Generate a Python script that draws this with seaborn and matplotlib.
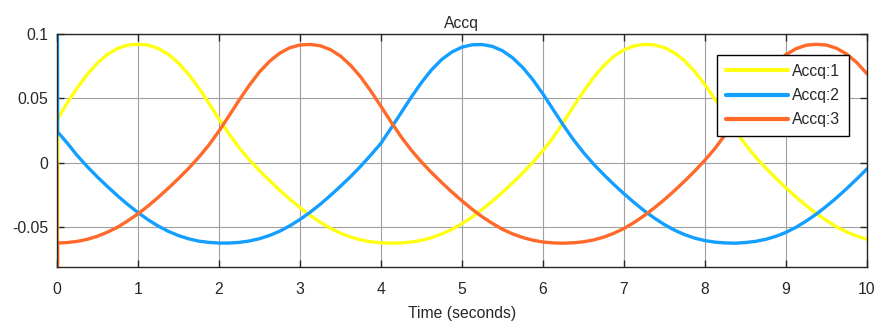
"""Simulink scope style plot of the three Accq signals."""
import matplotlib
matplotlib.use("Agg")
import matplotlib.pyplot as plt
import pandas as pd
import seaborn as sns

# sample times (s); the first three samples hold the start-up transient
TIME = [0.0, 0.004, 0.008,
        0.125, 0.25, 0.375, 0.5, 0.625, 0.75, 0.875, 1.0,
        1.125, 1.25, 1.375, 1.5, 1.625, 1.75, 1.875, 2.0,
        2.125, 2.25, 2.375, 2.5, 2.625, 2.75, 2.875, 3.0,
        3.125, 3.25, 3.375, 3.5, 3.625, 3.75, 3.875, 4.0,
        4.125, 4.25, 4.375, 4.5, 4.625, 4.75, 4.875, 5.0,
        5.125, 5.25, 5.375, 5.5, 5.625, 5.75, 5.875, 6.0,
        6.125, 6.25, 6.375, 6.5, 6.625, 6.75, 6.875, 7.0,
        7.125, 7.25, 7.375, 7.5, 7.625, 7.75, 7.875, 8.0,
        8.125, 8.25, 8.375, 8.5, 8.625, 8.75, 8.875, 9.0,
        9.125, 9.25, 9.375, 9.5, 9.625, 9.75, 9.875, 10.0]

ACCQ_1 = [-0.3, -0.3, 0.034,
          0.0463, 0.0581, 0.0687, 0.0775, 0.0842, 0.0888, 0.0914, 0.092,
          0.0914, 0.0888, 0.0842, 0.0775, 0.0687, 0.0581, 0.0463, 0.034,
          0.0222, 0.0116, 0.0023, -0.0061, -0.0139, -0.0213, -0.0283, -0.0349,
          -0.0409, -0.0462, -0.0509, -0.0547, -0.0577, -0.0599, -0.0614, -0.0622,
          -0.0625, -0.0623, -0.0616, -0.0603, -0.0582, -0.0554, -0.0518, -0.0473,
          -0.0422, -0.0363, -0.0299, -0.023, -0.0157, -0.008, 0.0003, 0.0094,
          0.0194, 0.0312, 0.0435, 0.0553, 0.0662, 0.0754, 0.0826, 0.0877,
          0.0908, 0.0919, 0.0915, 0.0894, 0.0853, 0.0791, 0.0708, 0.0606,
          0.0491, 0.037, 0.025, 0.0141, 0.0045, -0.0041, -0.012, -0.0195,
          -0.0266, -0.0333, -0.0395, -0.0449, -0.0498, -0.0538, -0.057, -0.0594]

ACCQ_2 = [0.3, 0.3, 0.024,
          0.0154, 0.0056, -0.0031, -0.0111, -0.0186, -0.0258, -0.0325, -0.0387,
          -0.0443, -0.0492, -0.0533, -0.0566, -0.0591, -0.0609, -0.0619, -0.0624,
          -0.0624, -0.0619, -0.0608, -0.059, -0.0565, -0.0532, -0.049, -0.0441,
          -0.0385, -0.0323, -0.0255, -0.0183, -0.0108, -0.0027, 0.006, 0.0151,
          0.0269, 0.0389, 0.051, 0.0623, 0.0722, 0.0802, 0.086, 0.0898,
          0.0916, 0.0918, 0.0904, 0.087, 0.0815, 0.074, 0.0645, 0.0534,
          0.0414, 0.0293, 0.018, 0.0079, -0.0011, -0.0092, -0.0169, -0.0241,
          -0.0309, -0.0373, -0.043, -0.0481, -0.0524, -0.0559, -0.0586, -0.0605,
          -0.0617, -0.0623, -0.0625, -0.062, -0.0611, -0.0595, -0.0572, -0.0541,
          -0.0501, -0.0453, -0.0399, -0.0338, -0.0272, -0.0201, -0.0126, -0.0048]

ACCQ_3 = [0.0, -0.3, -0.0624,
          -0.062, -0.0611, -0.0595, -0.0571, -0.0539, -0.05, -0.0451, -0.0397,
          -0.0336, -0.0269, -0.0198, -0.0123, -0.0044, 0.0042, 0.0137, 0.0246,
          0.0365, 0.0487, 0.0602, 0.0705, 0.0788, 0.0851, 0.0893, 0.0915,
          0.0919, 0.0909, 0.0879, 0.0829, 0.0757, 0.0666, 0.0557, 0.0438,
          0.0316, 0.0201, 0.0097, 0.0006, -0.0077, -0.0154, -0.0227, -0.0296,
          -0.0361, -0.042, -0.0471, -0.0517, -0.0553, -0.0581, -0.0602, -0.0616,
          -0.0623, -0.0625, -0.0622, -0.0614, -0.06, -0.0578, -0.0548, -0.0511,
          -0.0464, -0.0411, -0.0351, -0.0286, -0.0216, -0.0142, -0.0064, 0.002,
          0.0112, 0.0218, 0.0335, 0.0458, 0.0576, 0.0683, 0.0771, 0.084,
          0.0886, 0.0913, 0.092, 0.0914, 0.0889, 0.0844, 0.0778, 0.0691]

LABELS = ["Accq:1", "Accq:2", "Accq:3"]
COLORS = ["#FFFF11", "#139FFF", "#FF6929"]

X_TICKS = list(range(0, 11))
Y_TICKS = [-0.05, 0, 0.05, 0.1]
Y_TICK_LABELS = ["-0.05", "0", "0.05", "0.1"]

TEXT = "#262626"
FS = 11.3


def main() -> None:
    sns.set_theme(style="ticks")
    plt.rcParams["font.family"] = ["Liberation Sans", "DejaVu Sans"]

    frames = []
    for label, values in zip(LABELS, [ACCQ_1, ACCQ_2, ACCQ_3]):
        frames.append(pd.DataFrame({"time": TIME, "value": values, "signal": label}))
    df = pd.concat(frames, ignore_index=True)

    fig = plt.figure(figsize=(8.79, 3.26), dpi=100)
    ax = fig.add_axes([0.0648, 0.181, 0.9215, 0.7147])

    sns.lineplot(data=df, x="time", y="value", hue="signal", palette=COLORS,
                 estimator=None, sort=False, linewidth=2.4, ax=ax)

    ax.set_xlim(0, 10)
    ax.set_ylim(-0.081, 0.1)
    ax.set_xticks(X_TICKS)
    ax.set_yticks(Y_TICKS)
    ax.set_yticklabels(Y_TICK_LABELS)
    ax.grid(True, color="#A0A0A0", linewidth=0.8)
    ax.set_axisbelow(True)
    ax.tick_params(direction="in", top=True, right=True, length=5,
                   width=1.0, labelsize=FS, colors=TEXT)
    ax.tick_params(axis="x", pad=10.5)
    ax.tick_params(axis="y", pad=6.5)
    for spine in ax.spines.values():
        spine.set_color(TEXT)
        spine.set_linewidth(1.0)

    ax.set_title("Accq", fontsize=FS, color=TEXT, pad=4)
    ax.set_xlabel("Time (seconds)", fontsize=FS, color=TEXT, labelpad=7)
    ax.set_ylabel("")

    leg = ax.legend(loc="upper right", bbox_to_anchor=(0.978, 0.91),
                    fontsize=FS, frameon=True, fancybox=False, framealpha=1,
                    edgecolor="black", handlelength=4.0, handletextpad=0.25,
                    borderpad=0.55, labelspacing=0.6, borderaxespad=0)
    leg.get_frame().set_linewidth(1.0)
    for text in leg.get_texts():
        text.set_color(TEXT)
    for line in leg.get_lines():
        line.set_linewidth(3.0)

    fig.savefig("out.png", dpi=100)
    plt.close(fig)


if __name__ == "__main__":
    main()
